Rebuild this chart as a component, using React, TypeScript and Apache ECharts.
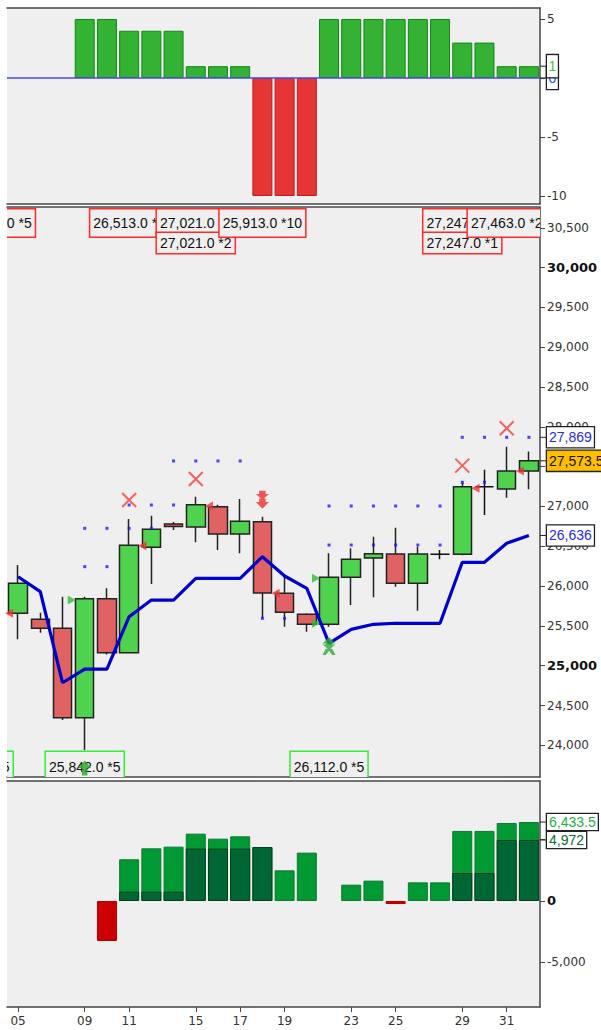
import React, { useEffect, useRef } from 'react';
import * as echarts from 'echarts';

// ---------- data ----------
const categories = ['05', '06', '08', '09', '10', '11', '12', '13', '15', '16', '17', '18', '19', '20', '22', '23', '24', '25', '26', '27', '29', '30', '31', '01'];
const labelIndexes = [0, 3, 5, 8, 10, 12, 15, 17, 20, 22];

// top panel: signal strength
const signal = [null, null, null, 5, 5, 4, 4, 4, 1, 1, 1, -10, -10, -10, 5, 5, 5, 5, 5, 5, 3, 3, 1, 1];
const signalTicks = [-10, -5, 0, 5];
const signalTags = [0, 1];

// main panel: [open, close, low, high]
const candles = [
  [25658, 26035, 25332, 26265],
  [25583, 25470, 25414, 25666],
  [25470, 24347, 24318, 25867],
  [24347, 25842, 23941, 25867],
  [25842, 25163, 25140, 25972],
  [25163, 26513, 25160, 26843],
  [26487, 26714, 26026, 26884],
  [26780, 26748, 26705, 26805],
  [26742, 27021, 26550, 27123],
  [26997, 26654, 26453, 27021],
  [26654, 26814, 26412, 27094],
  [26809, 25913, 25595, 26872],
  [25909, 25671, 25490, 26118],
  [25646, 25520, 25427, 25660],
  [25520, 26112, 25490, 26412],
  [26110, 26337, 25763, 26475],
  [26353, 26407, 25859, 26621],
  [26403, 26035, 25992, 26734],
  [26035, 26403, 25691, 26495],
  [26400, 26400, 26337, 26453],
  [26399, 27247, 26387, 27312],
  [27247, 27247, 26893, 27463],
  [27220, 27446, 27110, 27751],
  [27446, 27573.5, 27216, 27690],
];
const stopLine = [26118, 25930, 24786, 24958, 24958, 25616, 25825, 25825, 26098, 26098, 26098, 26369, 26127, 25972, 25281, 25457, 25520, 25533, 25533, 25533, 26299, 26299, 26538, 26636];
const stopDots = [
  [3, 26244], [4, 26244],
  [3, 26726], [4, 26726], [5, 26726], [6, 26726],
  [5, 27019], [6, 27019], [7, 27019],
  [7, 27572], [8, 27572], [9, 27572], [10, 27572],
  [11, 25595], [12, 25595],
  [14, 27006], [15, 27006], [16, 27006], [17, 27006], [18, 27006], [19, 27006],
  [14, 26516], [15, 26516], [16, 26516], [17, 26516], [18, 26516], [19, 26516],
  [20, 27304], [21, 27304],
  [20, 27869], [21, 27869], [22, 27869], [23, 27869],
];
const crossMarks = [[5, 27081], [8, 27346], [20, 27513], [22, 27982]];
const sellArrows = [[11, 27085]];
const buyArrows = [[14, 25247]];
const entryArrows = [[3, 23715]];
const sellTriangles = [[0, 25658], [6, 26508], [9, 27006], [12, 25909], [21, 27229], [23, 27446]];
const buyTriangles = [[3, 25825], [14, 26098], [14, 25533]];
const upperNotes = [
  [-1, 0, '25,658.0 *5'],
  [5, 0, '26,513.0 *1'],
  [8, 0, '27,021.0 *2'],
  [8, 1, '27,021.0 *2'],
  [11, 0, '25,913.0 *10'],
  [20, 0, '27,247.0 *1'],
  [20, 1, '27,247.0 *1'],
  [22, 0, '27,463.0 *2'],
];
const lowerNotes = [
  [-2, '25,332.0 *5'],
  [3, '25,842.0 *5'],
  [14, '26,112.0 *5'],
];
const priceTicks = [24000, 24500, 25000, 25500, 26000, 26500, 27000, 27500, 28000, 28500, 29000, 29500, 30000, 30500];
const priceTags = [27869, 27573.5, 26636];

// bottom panel
const flowTotal = [null, null, null, null, -3260, 3400, 4290, 4430, 5490, 5080, 5270, 4400, 2500, 3940, null, 1330, 1660, -250, 1520, 1520, 5710, 5710, 6360, 6433.5];
const flowCore = [null, null, null, null, null, 760, 760, 760, 4270, 4270, 4270, 4400, null, null, null, null, null, null, null, null, 2280, 2280, 4972, 4972];
const flowTicks = [-5000, 0, 5000];
const flowTags = [6433.5, 4972];

// ---------- helpers ----------
const fmt = (v: number) => v.toLocaleString('en-US', { maximumFractionDigits: 1 });
const AX = 'DejaVu Sans';
const TAGF = 'Liberation Sans';
const isLabel = (i: number) => labelIndexes.includes(i);

const styled = (arr: (number | null)[], pos: [string, string], neg: [string, string]) =>
  arr.map((v) =>
    v == null
      ? null
      : { value: v, itemStyle: { color: v < 0 ? neg[0] : pos[0], borderColor: v < 0 ? neg[1] : pos[1], borderWidth: 1 } }
  );

const xAxisFor = (gridIndex: number, position: string, showLabels: boolean) => ({
  type: 'category',
  gridIndex,
  position,
  data: categories,
  boundaryGap: true,
  axisLine: { show: true, onZero: false, lineStyle: { color: '#474747', width: 1.5 } },
  axisTick: { show: showLabels, alignWithLabel: true, interval: (i: number) => isLabel(i), length: 5, lineStyle: { color: '#474747', width: 1 } },
  axisLabel: { show: showLabels, interval: (i: number) => isLabel(i), margin: 8, color: '#333', fontFamily: AX, fontSize: 12 },
  splitLine: { show: false },
  axisPointer: { show: false },
});

const yAxisFor = (gridIndex: number, min: number, max: number, ticks: number[], bold: number[]) => ({
  type: 'value',
  gridIndex,
  position: 'right',
  min,
  max,
  splitLine: { show: false },
  axisLine: { show: true, lineStyle: { color: '#474747', width: 1.5 } },
  axisTick: { show: true, inside: false, length: 5, customValues: ticks, lineStyle: { color: '#474747', width: 1 } },
  axisLabel: {
    customValues: ticks,
    margin: 7,
    color: '#333',
    fontFamily: AX,
    fontSize: 12,
    formatter: (v: number) => (bold.includes(v) ? `{b|${fmt(v)}}` : fmt(v)),
    rich: { b: { fontWeight: 'bold', fontFamily: AX, fontSize: 13, color: '#111' } },
  },
});

const tagSeries = (gridIndex: number, axisIdx: number, values: number[], styles: { fill: string; bg: string; pad: number[] }[]) => ({
  type: 'custom',
  xAxisIndex: axisIdx,
  yAxisIndex: gridIndex,
  clip: false,
  z: 20,
  silent: true,
  data: values.map((v) => [categories.length - 1, v]),
  renderItem: (params: any, api: any) => {
    const cs = params.coordSys;
    const v = values[params.dataIndex];
    const s = styles[params.dataIndex];
    const y = api.coord([0, v])[1];
    const x0 = cs.x + cs.width;
    return {
      type: 'group',
      children: [
        { type: 'line', shape: { x1: x0, y1: y, x2: x0 + 7, y2: y }, style: { stroke: '#222', lineWidth: 1 } },
        {
          type: 'text',
          x: x0 + 7,
          y,
          style: {
            text: fmt(v),
            fill: s.fill,
            fontFamily: TAGF,
            fontSize: 14,
            align: 'left',
            verticalAlign: 'middle',
            backgroundColor: s.bg,
            borderColor: '#222',
            borderWidth: 1.3,
            padding: s.pad,
          },
        },
      ],
    };
  },
});

export default function App() {
  const ref = useRef<HTMLDivElement>(null);

  useEffect(() => {
    if (!ref.current) return;
    const chart = echarts.init(ref.current, undefined, { renderer: 'svg' });

    const mainMin = 23602;
    const mainMax = 30762;

    const option: any = {
      animation: false,
      backgroundColor: '#ffffff',
      grid: [
        { left: 7, right: 61, top: 8, height: 196, show: true, backgroundColor: '#efefef', borderWidth: 0, outerBoundsMode: 'none' },
        { left: 7, right: 61, top: 207, height: 570, show: true, backgroundColor: '#efefef', borderWidth: 0, outerBoundsMode: 'none' },
        { left: 7, right: 61, top: 781, height: 226, show: true, backgroundColor: '#efefef', borderWidth: 0, outerBoundsMode: 'none' },
      ],
      xAxis: [
        xAxisFor(0, 'bottom', false),
        xAxisFor(0, 'top', false),
        xAxisFor(1, 'bottom', false),
        xAxisFor(1, 'top', false),
        xAxisFor(2, 'bottom', true),
        xAxisFor(2, 'top', false),
      ],
      yAxis: [
        yAxisFor(0, -10.68, 5.93, signalTicks, []),
        yAxisFor(1, mainMin, mainMax, priceTicks, [25000, 30000]),
        yAxisFor(2, -8640, 9780, flowTicks, [0]),
      ],
      series: [
        // ---- top panel ----
        {
          type: 'bar',
          xAxisIndex: 0,
          yAxisIndex: 0,
          data: styled(signal, ['#33b233', '#14861a'], ['#e63535', '#b81c1c']),
          barWidth: 20,
          markLine: {
            silent: true,
            symbol: ['none', 'none'],
            label: { show: false },
            lineStyle: { color: '#4848ee', width: 1.5, type: 'solid' },
            data: [{ yAxis: 0 }],
          },
        },
        tagSeries(0, 0, signalTags, [
          { fill: '#3344ee', bg: '#ffffff', pad: [4, 1.5, 4, 1.5] },
          { fill: '#44c444', bg: '#ffffff', pad: [4, 1.5, 4, 1.5] },
        ]),
        // ---- main panel ----
        {
          type: 'candlestick',
          xAxisIndex: 2,
          yAxisIndex: 1,
          data: candles,
          barWidth: 19,
          itemStyle: {
            color: '#4fd34f',
            color0: '#e06262',
            borderColor: '#222',
            borderColor0: '#222',
            borderColorDoji: '#111',
            borderWidth: 1.5,
          },
          z: 2,
        },
        {
          type: 'line',
          xAxisIndex: 2,
          yAxisIndex: 1,
          data: stopLine,
          symbol: 'none',
          lineStyle: { color: '#0000cc', width: 3.2 },
          z: 3,
        },
        {
          type: 'scatter',
          xAxisIndex: 2,
          yAxisIndex: 1,
          data: stopDots,
          symbol: 'rect',
          symbolSize: 3,
          itemStyle: { color: '#1a1aff' },
          z: 4,
        },
        {
          type: 'scatter',
          xAxisIndex: 2,
          yAxisIndex: 1,
          data: crossMarks,
          symbol: 'path://M0,0L14,14M14,0L0,14',
          symbolSize: 14,
          itemStyle: { color: 'transparent', borderColor: '#f04040', borderWidth: 2 },
          z: 4,
        },
        {
          type: 'scatter',
          xAxisIndex: 2,
          yAxisIndex: 1,
          data: sellArrows,
          symbol: 'path://M3,0L9,0L9,3L12,3L6,8L0,3L3,3Z M3,7L9,7L9,10L12,10L6,16L0,10L3,10Z',
          symbolSize: [13, 18],
          itemStyle: { color: '#ee3030' },
          z: 6,
        },
        {
          type: 'scatter',
          xAxisIndex: 2,
          yAxisIndex: 1,
          data: buyArrows,
          symbol: 'path://M6,0L12,6L9,6L9,7L12,7L6,12L0,7L3,7L3,6L0,6Z M3,11L9,11L12,17L9,17L6,13L3,17L0,17Z',
          symbolSize: [13, 18],
          itemStyle: { color: '#2eaa3a' },
          z: 6,
        },
        {
          type: 'scatter',
          xAxisIndex: 2,
          yAxisIndex: 1,
          data: entryArrows,
          symbol: 'path://M6,0L12,7L8.5,7L8.5,14L3.5,14L3.5,7L0,7Z',
          symbolSize: [13, 15],
          itemStyle: { color: '#22a828' },
          z: 8,
        },
        {
          type: 'scatter',
          xAxisIndex: 2,
          yAxisIndex: 1,
          data: sellTriangles,
          symbol: 'triangle',
          symbolSize: [9, 8],
          symbolRotate: 90,
          symbolOffset: [-9, 0],
          itemStyle: { color: '#ee3333' },
          z: 5,
        },
        {
          type: 'scatter',
          xAxisIndex: 2,
          yAxisIndex: 1,
          data: buyTriangles,
          symbol: 'triangle',
          symbolSize: [9, 8],
          symbolRotate: -90,
          symbolOffset: [-13, 0],
          itemStyle: { color: '#33bb33' },
          z: 5,
        },
        {
          type: 'custom',
          xAxisIndex: 2,
          yAxisIndex: 1,
          clip: true,
          z: 7,
          silent: true,
          data: upperNotes.map((n) => [n[0], mainMax]),
          renderItem: (params: any, api: any) => {
            const cs = params.coordSys;
            const n = upperNotes[params.dataIndex];
            const x = api.coord([n[0], mainMax])[0];
            const row = n[1] as number;
            return {
              type: 'text',
              x,
              y: cs.y + 16 + row * 20,
              style: {
                text: n[2],
                fill: '#111',
                fontFamily: TAGF,
                fontSize: 14,
                align: 'center',
                verticalAlign: 'middle',
                backgroundColor: '#efefef',
                borderColor: '#ff2b2b',
                borderWidth: 1.5,
                padding: row === 0 ? [10, 3, 3, 3] : [3, 3, 3, 3],
              },
            };
          },
        },
        {
          type: 'custom',
          xAxisIndex: 2,
          yAxisIndex: 1,
          clip: true,
          z: 7,
          silent: true,
          data: lowerNotes.map((n) => [n[0], mainMin]),
          renderItem: (params: any, api: any) => {
            const cs = params.coordSys;
            const n = lowerNotes[params.dataIndex];
            const x = api.coord([n[0], mainMin])[0];
            return {
              type: 'text',
              x,
              y: cs.y + cs.height - 10,
              style: {
                text: n[1],
                fill: '#111',
                fontFamily: TAGF,
                fontSize: 14,
                align: 'center',
                verticalAlign: 'middle',
                backgroundColor: '#efefef',
                borderColor: '#33ee33',
                borderWidth: 1.5,
                padding: [6, 3, 10, 3],
              },
            };
          },
        },
        tagSeries(1, 2, priceTags, [
          { fill: '#2a2ae0', bg: '#ffffff', pad: [3, 2, 3, 2] },
          { fill: '#111111', bg: '#ffbf00', pad: [3, 2, 3, 2] },
          { fill: '#2a2ae0', bg: '#ffffff', pad: [3, 2, 3, 2] },
        ]),
        // ---- bottom panel ----
        {
          type: 'bar',
          xAxisIndex: 4,
          yAxisIndex: 2,
          data: styled(flowTotal, ['#009933', '#0b7a30'], ['#cc0000', '#b00000']),
          barWidth: 20,
        },
        {
          type: 'bar',
          xAxisIndex: 4,
          yAxisIndex: 2,
          data: styled(flowCore, ['#006633', '#02401c'], ['#006633', '#02401c']),
          barWidth: 20,
          barGap: '-100%',
        },
        tagSeries(2, 4, flowTags, [
          { fill: '#22b048', bg: '#ffffff', pad: [1, 2, 1, 2] },
          { fill: '#0f6a35', bg: '#ffffff', pad: [1, 2, 1, 2] },
        ]),
      ],
    };

    chart.setOption(option);
    return () => chart.dispose();
  }, []);

  return <div ref={ref} style={{ position: 'absolute', left: 0, top: 0, width: 601, height: 1030 }} />;
}
